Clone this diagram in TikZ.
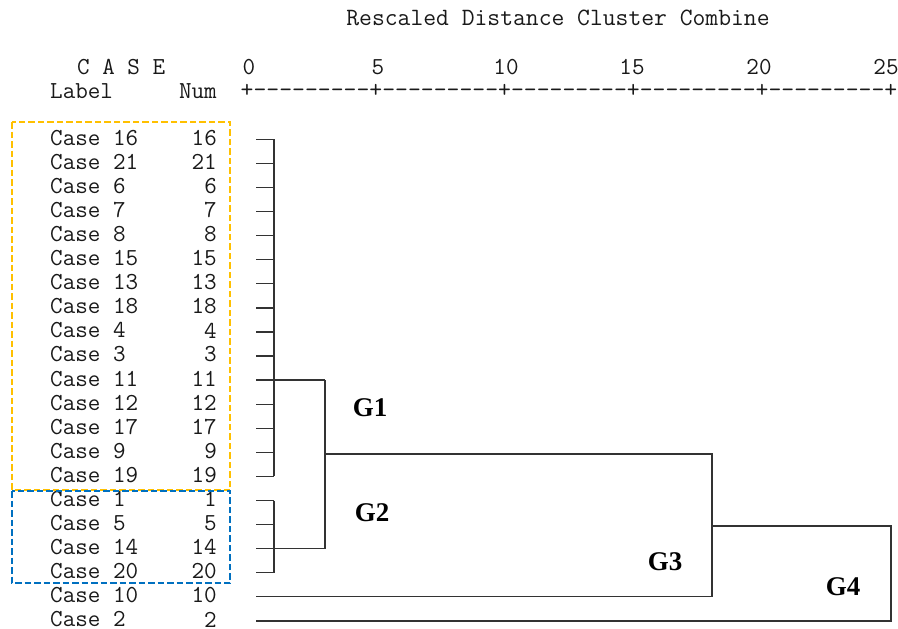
\documentclass[tikz,border=0pt]{standalone}
\usepackage{fontspec}
\setmainfont{Liberation Serif}
\definecolor{boxyellow}{RGB}{255,192,0}
\definecolor{boxblue}{RGB}{0,112,192}
\begin{document}
\begin{tikzpicture}[x=1pt,y=-1pt,
  mono/.style={font=\fontsize{24.4}{24.4}\selectfont\ttfamily, inner sep=0pt, text=black!90},
  titlefont/.style={font=\fontsize{24.9}{24.9}\selectfont\ttfamily, inner sep=0pt, text=black!90},
  axisfont/.style={font=\fontsize{25}{25}\selectfont\ttfamily, inner sep=0pt, text=black!90},
  glabel/.style={font=\fontsize{27}{27}\selectfont\bfseries, inner sep=0pt},
  dendro/.style={line width=1.3pt, draw=black!80},
  ybox/.style={draw=boxyellow, line width=2.8pt, dash pattern=on 6.5pt off 3pt},
  bbox/.style={draw=boxblue, line width=2.8pt, dash pattern=on 6.5pt off 3pt}]
\useasboundingbox (0,0) rectangle (898,629);

% header
\node[titlefont] (title) at (558,18) {Rescaled Distance Cluster Combine};
\node[mono, anchor=west] (casehdr) at (77,67) {C A S E};
\node[mono, anchor=west] (labelhdr) at (50,91) {Label};
\node[mono, anchor=east] (numhdr) at (217,91) {Num};
\node[mono] (t0) at (249,67) {0};
\node[mono] (t5) at (378,67) {5};
\node[mono] (t10) at (506,67) {10};
\node[mono] (t15) at (632,67) {15};
\node[mono] (t20) at (759,67) {20};
\node[mono] (t25) at (886,67) {25};
\node[axisfont, anchor=west] (axis) at (240.5,91) {+---------+---------+---------+---------+---------+};

% case rows
\foreach \n [count=\i from 0] in {16,21,6,7,8,15,13,18,4,3,11,12,17,9,19,1,5,14,20,10,2} {
  \pgfmathsetmacro\yy{139.3+24.08*\i}
  \node[mono, anchor=west] (lab\i) at (50,\yy-1.5) {Case \n};
  \node[mono, anchor=east] (num\i) at (217,\yy-1.5) {\n};
  \coordinate (leaf\i) at (256,\yy);
}

% joints of the tree
\coordinate (g1top) at ([xshift=18pt]leaf0);
\coordinate (g1bot) at ([xshift=18pt]leaf14);
\coordinate (g2top) at ([xshift=18pt]leaf15);
\coordinate (g2bot) at ([xshift=18pt]leaf18);
\coordinate (g12a) at ([xshift=69pt]leaf10);
\coordinate (g12b) at ([xshift=69pt]leaf17);
\coordinate (g12m) at (325,454);
\coordinate (g3a) at (712,454);
\coordinate (g3b) at ([xshift=456pt]leaf19);
\coordinate (g3m) at (712,526);
\coordinate (g4a) at (891,526);
\coordinate (g4b) at ([xshift=635pt]leaf20);

% leaves of the two first clusters
\foreach \i in {0,...,18} {
  \draw[dendro] (leaf\i) -- (leaf\i -| g1top);
}
\draw[dendro] (g1top) -- (g1bot);
\draw[dendro] (g2top) -- (g2bot);
\draw[dendro] (leaf10) -- (g12a);
\draw[dendro] (leaf17) -- (g12b);
\draw[dendro] (g12a) -- (g12b);
\draw[dendro] (g12m) -- (g3a) -- (g3b) -- (leaf19);
\draw[dendro] (g3m) -- (g4a) -- (g4b) -- (leaf20);

% group labels
\node[glabel] (G1) at (370,408) {G1};
\node[glabel] (G2) at (372,513) {G2};
\node[glabel] (G3) at (665,562) {G3};
\node[glabel] (G4) at (843,587) {G4};

% highlight boxes
\draw[ybox] (12,122) rectangle (230,490);
\draw[bbox] (12,491) rectangle (230,583);
\end{tikzpicture}
\end{document}
